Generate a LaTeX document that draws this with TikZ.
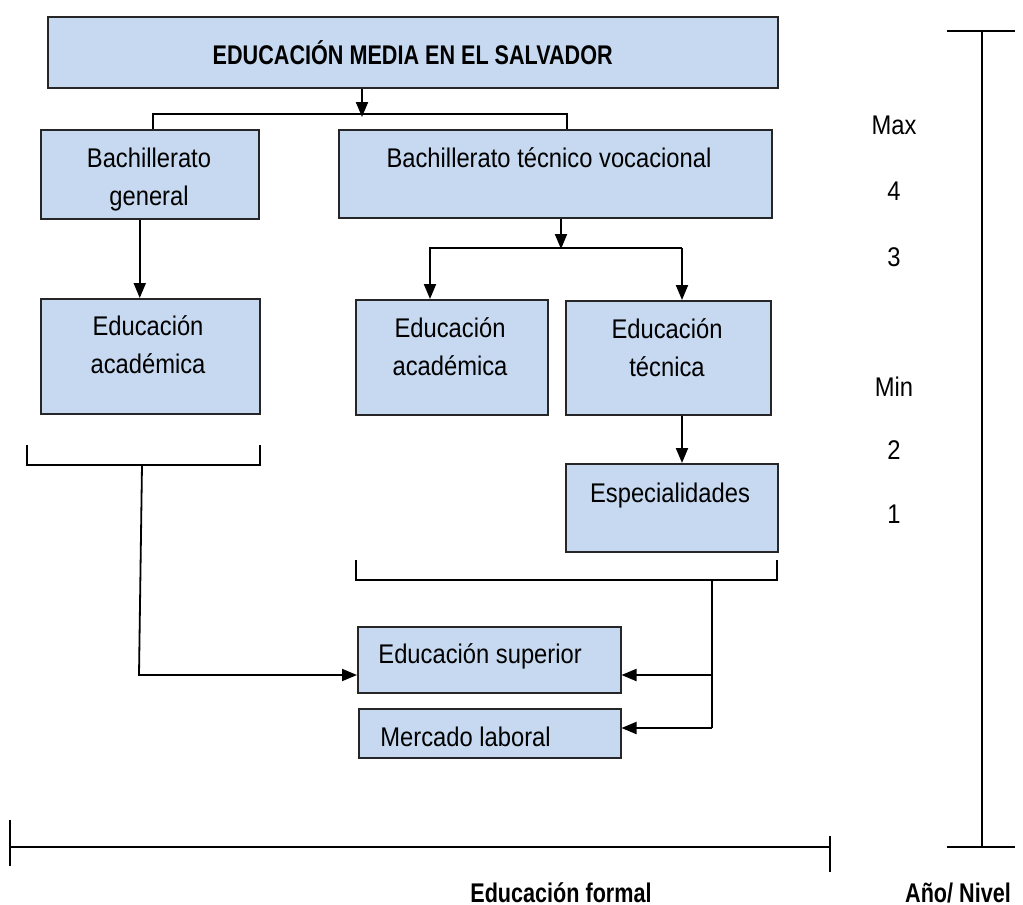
\documentclass[tikz,border=0pt]{standalone}
\usepackage{fontspec}
\setmainfont{Liberation Sans}[FakeStretch=0.88]
\newfontfamily\boldnarrow{Liberation Sans}[FakeStretch=0.8]
\usetikzlibrary{arrows.meta}
\definecolor{boxblue}{RGB}{198,217,240}

\begin{document}
\begin{tikzpicture}[x=0.5pt,y=-0.5pt,>={Triangle[length=7.5pt,width=6pt]},
  box/.style={draw=black!85,fill=boxblue,line width=0.75pt,anchor=north west,inner sep=0pt},
  txt/.style={font=\fontsize{13.5}{16}\selectfont,inner sep=0pt,anchor=base},
  head/.style={font=\boldnarrow\bfseries\fontsize{13.5}{16}\selectfont,inner sep=0pt},
  arrow/.style={->,line width=1pt},
  bracket/.style={line width=0.75pt}]

  \useasboundingbox (0,0) rectangle (1023,905);

  \node[box,minimum width=365pt,minimum height=35.5pt,head] (media) at (47,16) {EDUCACIÓN MEDIA EN EL SALVADOR};
  \node[box,minimum width=109pt,minimum height=44.5pt] (bgen) at (40,129) {};
  \node[box,minimum width=216.5pt,minimum height=44pt] (btv) at (338,129) {};
  \node[box,minimum width=109.5pt,minimum height=57.5pt] (acadL) at (40,298) {};
  \node[box,minimum width=96pt,minimum height=57.5pt] (acadM) at (355,299) {};
  \node[box,minimum width=102.5pt,minimum height=57pt] (tecn) at (565,300) {};
  \node[box,minimum width=106pt,minimum height=44pt] (espec) at (565,463) {};
  \node[box,minimum width=131.5pt,minimum height=33pt] (sup) at (357,626) {};
  \node[box,minimum width=131pt,minimum height=24.5pt] (merc) at (358,708) {};

  \node[txt] (t1) at (149,167) {Bachillerato};
  \node[txt] (t2) at (149,205) {general};
  \node[txt] (t3) at (549,167) {Bachillerato técnico vocacional};
  \node[txt] (t4) at (148,335) {Educación};
  \node[txt] (t5) at (148,373) {académica};
  \node[txt] (t6) at (450,337) {Educación};
  \node[txt] (t7) at (450,375) {académica};
  \node[txt] (t8) at (667,338) {Educación};
  \node[txt] (t9) at (667,376) {técnica};
  \node[txt] (t10) at (670,502) {Especialidades};
  \node[txt,anchor=base west] (t11) at (378,663) {Educación superior};
  \node[txt,anchor=base west] (t12) at (380,746) {Mercado laboral};

  \foreach \lab/\y in {Max/125,4/191,3/257,Min/387,2/450,1/514}
    \node[txt,anchor=center] (lab-\lab) at (894,\y) {\lab};

  \node[head,anchor=base] (formal) at (561,902) {Educación formal};
  \node[head,anchor=base] (nivel) at (958,902) {Año/ Nivel};

  \coordinate (j1) at (362,114);
  \coordinate (l1) at (153,114);
  \coordinate (r1) at (567,114);
  \coordinate (j2) at (561,248);
  \coordinate (l2) at (430,248);
  \coordinate (r2) at (682,248);

  \draw[bracket] (bgen.north -| l1) -- (l1) -- (r1) -- (btv.north -| r1);
  \draw[arrow,shorten >=-1.5pt] (media.south -| j1) -- (j1);
  \draw[arrow] ([xshift=-5pt]bgen.south) -- ([xshift=-5pt]bgen.south |- acadL.north);
  \draw[arrow,shorten >=-0.5pt] (btv.south -| j2) -- (j2);
  \draw[arrow] (r2) -- (l2) -- (l2 |- acadM.north);
  \draw[arrow] (r2) -- (r2 |- tecn.north);
  \draw[arrow] (tecn.south -| r2) -- (r2 |- espec.north);

  \coordinate (bl) at (27,465);
  \coordinate (br) at (260,465);
  \coordinate (s1) at (142,465);
  \coordinate (s2) at (139,675);
  \draw[bracket] ([yshift=10pt]bl) -- (bl) -- (br) -- ([yshift=10pt]br);
  \draw[arrow,line width=0.9pt] (s1) -- (s2) -- (s2 -| sup.west);

  \coordinate (cl) at (356,580);
  \coordinate (cr) at (777,580);
  \coordinate (s3) at (712,580);
  \coordinate (s4) at (712,675);
  \coordinate (s5) at (712,728);
  \draw[bracket] ([yshift=10pt]cl) -- (cl) -- (cr) -- ([yshift=10pt]cr);
  \draw[line width=0.9pt] (s3) -- (s5);
  \draw[arrow] (s4) -- (s4 -| sup.east);
  \draw[arrow] (s5) -- (s5 -| merc.east);

  \coordinate (ytop) at (982,31);
  \coordinate (ybot) at (982,847);
  \draw[line width=1pt] (ytop) -- (ybot);
  \draw[bracket] ([xshift=-17.5pt]ytop) -- ([xshift=16.5pt]ytop);
  \draw[bracket] ([xshift=-17.5pt]ybot) -- ([xshift=16.5pt]ybot);

  \coordinate (xl) at (10,847);
  \coordinate (xr) at (830,847);
  \draw[bracket] (xl) -- (xr);
  \draw[bracket] ([yshift=13.5pt]xl) -- ([yshift=-9.5pt]xl);
  \draw[bracket] ([yshift=5.5pt]xr) -- ([yshift=-12.5pt]xr);

\end{tikzpicture}
\end{document}
